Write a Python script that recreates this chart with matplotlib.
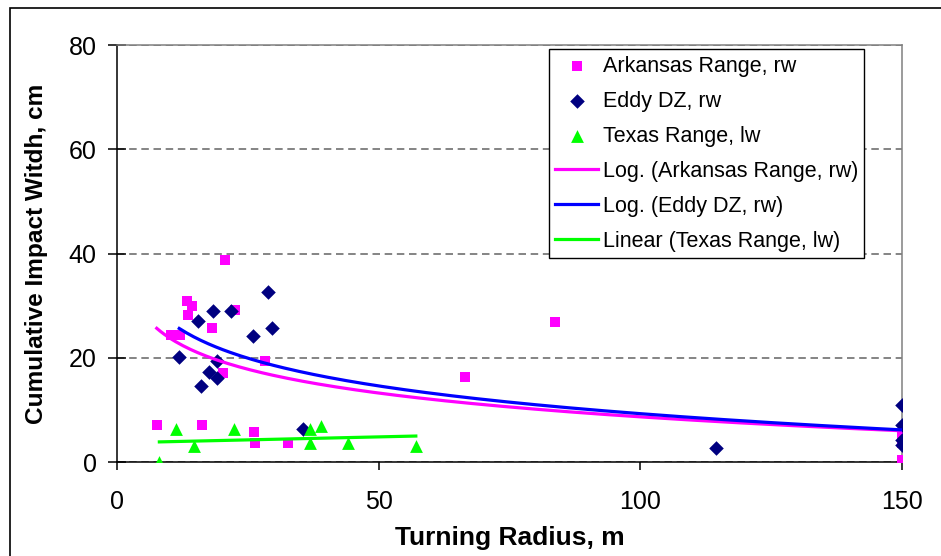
import numpy as np
import matplotlib
matplotlib.use("Agg")
import matplotlib.pyplot as plt

plt.rcParams['font.family'] = ['Liberation Sans', 'DejaVu Sans']

# Arkansas Range, rw (pink squares); some points overlap at 150
ark_x = [20.6, 13.3, 14.3, 13.6, 22.5, 18.1, 10.4, 12.0, 28.3, 20.3, 7.6,
         16.2, 26.1, 26.4, 32.7, 66.5, 83.7, 150, 150, 150, 150]
ark_y = [38.8, 30.8, 29.9, 28.3, 29.2, 25.7, 24.4, 24.4, 19.3, 17.0, 7.2,
         7.2, 5.8, 3.6, 3.6, 16.4, 26.9, 5.0, 3.7, 0.3, 0.2]

# Eddy DZ, rw (navy diamonds)
eddy_x = [28.8, 18.3, 21.8, 15.4, 29.7, 25.9, 11.9, 19.2, 17.6, 19.2, 16.1,
          35.5, 114.4, 150, 150, 150, 150]
eddy_y = [32.6, 29.0, 29.0, 27.1, 25.7, 24.1, 20.1, 19.4, 17.2, 16.2, 14.6,
          6.3, 2.75, 11.0, 7.1, 4.2, 3.3]

# Texas Range, lw (green triangles)
tex_x = [8.1, 11.3, 14.8, 22.4, 36.8, 39.0, 36.8, 44.1, 57.1]
tex_y = [0.0, 6.3, 3.1, 6.3, 6.3, 6.9, 3.6, 3.7, 3.1]

x_ticks = [0, 50, 100, 150]
y_ticks = [0, 20, 40, 60, 80]


def log_trend(x, y):
    x = np.array(x, dtype=float)
    a, b = np.polyfit(np.log(x), np.array(y, dtype=float), 1)
    xs = np.linspace(x.min(), x.max(), 200)
    return xs, a * np.log(xs) + b


def lin_trend(x, y):
    x = np.array(x, dtype=float)
    a, b = np.polyfit(x, np.array(y, dtype=float), 1)
    xs = np.linspace(x.min(), x.max(), 50)
    return xs, a * xs + b


fig = plt.figure(figsize=(9.41, 5.56), dpi=100)
ax = fig.add_axes([0.1243, 0.169, 0.8343, 0.750])

# outer chart frame (cropped on right/bottom)
fig.patches.append(plt.Rectangle((10 / 941, -0.02), 1.05, 1 - 8 / 556 + 0.02,
                                 transform=fig.transFigure, fill=False,
                                 edgecolor='black', lw=1.2))

ax.grid(axis='y', color='#707070', lw=1.2, linestyle=(0, (4.5, 2.8)))
ax.set_axisbelow(True)

h1 = ax.scatter(ark_x, ark_y, marker='s', s=55, color='#FF00FF', lw=0,
                zorder=3, label='Arkansas Range, rw')
h2 = ax.scatter(eddy_x, eddy_y, marker='D', s=55, color='#000080', lw=0,
                zorder=3, label='Eddy DZ, rw')
h3 = ax.scatter(tex_x, tex_y, marker='^', s=85, color='#00FF00', lw=0,
                zorder=3, label='Texas Range, lw')

xs, ys = log_trend(ark_x, ark_y)
l1, = ax.plot(xs, ys, color='#FF00FF', lw=2.3, zorder=4,
              label='Log. (Arkansas Range, rw)')
xs, ys = log_trend(eddy_x, eddy_y)
l2, = ax.plot(xs, ys, color='#0000FF', lw=2.3, zorder=4,
              label='Log. (Eddy DZ, rw)')
xs, ys = lin_trend(tex_x, tex_y)
l3, = ax.plot(xs, ys, color='#00FF00', lw=2.3, zorder=4,
              label='Linear (Texas Range, lw)')

ax.set_xlim(0, 150)
ax.set_ylim(0, 80)
ax.set_xticks(x_ticks)
ax.set_yticks(y_ticks)
ax.tick_params(axis='y', direction='inout', length=13, width=1.1,
               labelsize=18, pad=8)
ax.tick_params(axis='x', direction='out', length=6, width=1.1,
               labelsize=18, pad=14)

for side in ['left', 'bottom']:
    ax.spines[side].set_color('black')
    ax.spines[side].set_linewidth(1.1)
for side in ['top', 'right']:
    ax.spines[side].set_color('#808080')
    ax.spines[side].set_linewidth(1.1)

ax.set_xlabel('Turning Radius, m', fontsize=19, fontweight='bold',
              labelpad=9)
ax.set_ylabel('Cumulative Impact Witdh, cm', fontsize=17.6,
              fontweight='bold', labelpad=15)

leg = ax.legend(handles=[h1, h2, h3, l1, l2, l3], loc='upper left',
                bbox_to_anchor=(0.550, 0.990), fontsize=15.5, frameon=True,
                fancybox=False, edgecolor='black', framealpha=1,
                borderpad=0.3, labelspacing=0.65, handlelength=2.0,
                handletextpad=0.2, borderaxespad=0, scatterpoints=1)
leg.get_frame().set_linewidth(1.0)

fig.savefig('out.png', dpi=100)
